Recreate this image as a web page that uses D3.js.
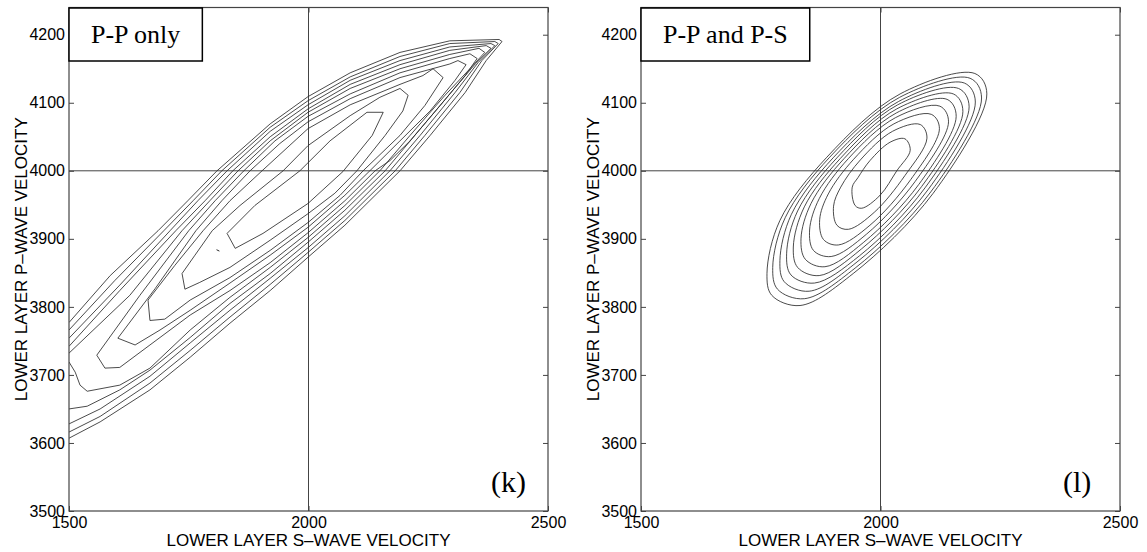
<!DOCTYPE html>
<html lang="en">
<head>
    <meta charset="UTF-8">
    <title>Misfit contours: lower layer velocities</title>
    <script src="https://d3js.org/d3.v7.min.js"></script>
    <style>
        body { margin: 0; background: #fff; }
        text { font-family: "Liberation Sans", Arial, Helvetica, sans-serif; }
        .serif { font-family: "Liberation Serif", "Times New Roman", serif; }
    </style>
</head>
<body>
    <script>
        // axis ranges and ticks
        const sDomain = [1500, 2500];
        const pDomain = [3500, 4240];
        const xTicks = [1500, 2000, 2500];
        const yTicks = [3500, 3600, 3700, 3800, 3900, 4000, 4100, 4200];
        const trueS = 2000;
        const trueP = 4000;
        const xTitle = 'LOWER LAYER S\u2013WAVE VELOCITY';
        const yTitle = 'LOWER LAYER P\u2013WAVE VELOCITY';

        // (k) P-P only: closed contours, innermost first  [S, P]
        const ppOnlyClosed = [
          [[1830,3908],[1888,3949],[1982,4000],[2045,4044],[2122,4086],[2156,4086],[2133,4052],[2072,3999],[1999,3952],[1905,3908],[1847,3886]],
          [[1736,3849],[1763,3876],[1799,3912],[1857,3949],[1947,4000],[1999,4037],[2087,4081],[2149,4108],[2191,4121],[2208,4111],[2197,4088],[2160,4052],[2101,4000],[2055,3967],[1999,3937],[1920,3898],[1836,3858],[1773,3836],[1742,3826]],
          [[1665,3810],[1721,3861],[1780,3912],[1836,3956],[1903,4000],[1999,4062],[2087,4097],[2191,4127],[2239,4140],[2260,4150],[2281,4137],[2243,4096],[2191,4052],[2114,4000],[2066,3964],[1999,3924],[1920,3883],[1836,3843],[1753,3810],[1700,3782],[1669,3780]],
          [[1602,3754],[1680,3827],[1765,3912],[1819,3956],[1878,4000],[1940,4040],[1999,4072],[2087,4106],[2191,4137],[2295,4157],[2312,4162],[2329,4156],[2306,4133],[2254,4088],[2191,4044],[2128,4000],[2076,3964],[1999,3917],[1920,3876],[1836,3835],[1753,3795],[1690,3766],[1638,3744]],
          [[1558,3729],[1648,3817],[1750,3912],[1805,3956],[1865,4000],[1930,4044],[1999,4080],[2087,4113],[2191,4144],[2295,4165],[2337,4172],[2352,4165],[2327,4140],[2275,4096],[2212,4044],[2170,4015],[2139,4000],[2076,3956],[1999,3909],[1920,3865],[1836,3824],[1753,3788],[1669,3744],[1606,3711],[1575,3710]]
        ];

        // (k) P-P only: contours cut by the left edge
        const ppOnlyOpen = [
          [[1500,3719],[1513,3704],[1523,3685],[1538,3676],[1606,3685],[1669,3710],[1753,3766],[1836,3814],[1920,3858],[1999,3902],[2076,3949],[2149,4000],[2212,4052],[2285,4111],[2337,4150],[2368,4174],[2356,4180],[2295,4171],[2191,4150],[2087,4121],[1999,4086],[1920,4044],[1853,4000],[1794,3956],[1736,3912],[1627,3817],[1500,3732]],
          [[1500,3650],[1538,3654],[1606,3678],[1669,3707],[1753,3755],[1836,3805],[1920,3849],[1999,3895],[2076,3942],[2160,4000],[2222,4052],[2295,4113],[2348,4157],[2381,4180],[2371,4184],[2295,4177],[2191,4156],[2087,4127],[1999,4091],[1920,4050],[1842,4000],[1784,3956],[1723,3912],[1606,3824],[1500,3742]],
          [[1500,3628],[1565,3650],[1669,3698],[1753,3747],[1836,3795],[1920,3842],[1999,3887],[2076,3934],[2170,4000],[2233,4052],[2306,4115],[2354,4159],[2389,4184],[2381,4187],[2295,4182],[2191,4162],[2087,4133],[1999,4097],[1920,4058],[1830,4000],[1769,3956],[1711,3912],[1606,3832],[1500,3754]],
          [[1500,3616],[1565,3639],[1669,3688],[1753,3736],[1836,3785],[1920,3833],[1999,3880],[2076,3927],[2181,4000],[2243,4052],[2316,4115],[2362,4162],[2396,4187],[2389,4190],[2295,4187],[2191,4168],[2087,4138],[1999,4103],[1920,4064],[1819,4000],[1759,3956],[1698,3912],[1596,3839],[1500,3766]],
          [[1500,3607],[1565,3631],[1669,3678],[1753,3726],[1836,3776],[1920,3824],[1999,3873],[2076,3920],[2191,4000],[2254,4052],[2327,4115],[2371,4162],[2404,4190],[2398,4193],[2295,4191],[2191,4174],[2087,4144],[1999,4109],[1920,4069],[1809,4000],[1748,3956],[1686,3912],[1586,3846],[1500,3777]]
        ];

        // tiny speck left of the innermost (k) contour
        const ppOnlySpeck = [[1808,3884],[1814,3882]];

        // (l) P-P and P-S: closed contours, innermost first
        const ppPsClosed = [
          [[1941,3976],[1947,3949],[1961,3945],[1999,3964],[2034,4000],[2062,4030],[2051,4047],[2020,4042],[1978,4015],[1953,3990]],
          [[1902,3948],[1909,3920],[1933,3914],[1987,3939],[2051,3993],[2097,4048],[2083,4068],[2025,4058],[1958,4016],[1917,3976]],
          [[1873,3928],[1881,3899],[1912,3891],[1978,3920],[2063,3987],[2123,4062],[2106,4083],[2028,4069],[1944,4017],[1891,3966]],
          [[1852,3913],[1860,3883],[1897,3874],[1971,3907],[2072,3984],[2142,4072],[2124,4095],[2031,4078],[1933,4018],[1872,3959]],
          [[1834,3900],[1843,3870],[1884,3859],[1965,3895],[2080,3980],[2158,4080],[2139,4105],[2033,4085],[1924,4018],[1855,3952]],
          [[1818,3888],[1827,3858],[1872,3846],[1960,3885],[2086,3977],[2172,4087],[2152,4113],[2034,4091],[1916,4018],[1841,3947]],
          [[1804,3878],[1813,3847],[1862,3835],[1956,3875],[2093,3975],[2185,4094],[2163,4121],[2036,4097],[1909,4019],[1827,3941]],
          [[1790,3868],[1799,3837],[1851,3823],[1951,3866],[2099,3972],[2198,4101],[2175,4129],[2038,4102],[1901,4019],[1814,3936]],
          [[1775,3858],[1785,3826],[1841,3812],[1947,3857],[2105,3969],[2211,4107],[2187,4136],[2040,4108],[1894,4020],[1801,3931]],
          [[1763,3849],[1773,3817],[1832,3802],[1943,3849],[2110,3967],[2222,4113],[2197,4143],[2041,4113],[1888,4020],[1790,3927]]
        ];

        const panels = [
          { left: 69, label: 'P-P only', tag: '(k)', closed: ppOnlyClosed, open: ppOnlyOpen, speck: ppOnlySpeck, curve: d3.curveLinearClosed },
          { left: 641, label: 'P-P and P-S', tag: '(l)', closed: ppPsClosed, open: [], speck: null, curve: d3.curveCatmullRomClosed.alpha(0.5) }
        ];

        const width = 1147;
        const height = 552;
        const plotW = 479;
        const plotTop = 7.5;
        const plotBottom = 511;
        const axisColor = '#444';
        const lineColor = '#2a2a2a';

        const svg = d3.select('body')
          .append('svg')
          .attr('width', width)
          .attr('height', height);

        function drawPanel(panel, i) {
          const x = d3.scaleLinear().domain(sDomain).range([panel.left, panel.left + plotW]);
          const y = d3.scaleLinear().domain(pDomain).range([plotBottom, plotTop]);

          const g = svg.append('g');
          const clipId = 'clip' + i;
          g.append('clipPath').attr('id', clipId)
            .append('rect')
            .attr('x', x(sDomain[0])).attr('y', y(pDomain[1]))
            .attr('width', plotW).attr('height', plotBottom - plotTop);

          const plot = g.append('g').attr('clip-path', `url(#${clipId})`);

          // true-model crosshair
          plot.append('line')
            .attr('x1', x(trueS)).attr('x2', x(trueS))
            .attr('y1', y(pDomain[0])).attr('y2', y(pDomain[1]))
            .attr('stroke', axisColor).attr('stroke-width', 1);
          plot.append('line')
            .attr('x1', x(sDomain[0])).attr('x2', x(sDomain[1]))
            .attr('y1', y(trueP)).attr('y2', y(trueP))
            .attr('stroke', axisColor).attr('stroke-width', 1);

          const line = d3.line().x(d => x(d[0])).y(d => y(d[1]));
          const loop = d3.line().x(d => x(d[0])).y(d => y(d[1])).curve(panel.curve);

          plot.selectAll('path.closed')
            .data(panel.closed)
            .join('path')
            .attr('class', 'closed')
            .attr('d', loop)
            .attr('fill', 'none')
            .attr('stroke', lineColor)
            .attr('stroke-width', 0.85);

          plot.selectAll('path.open')
            .data(panel.open)
            .join('path')
            .attr('class', 'open')
            .attr('d', line)
            .attr('fill', 'none')
            .attr('stroke', lineColor)
            .attr('stroke-width', 0.85);

          if (panel.speck) {
            plot.append('path')
              .attr('d', line(panel.speck))
              .attr('fill', 'none')
              .attr('stroke', lineColor)
              .attr('stroke-width', 1);
          }

          // axes, ticks pointing inward
          const yAxisL = d3.axisLeft(y).tickValues(yTicks).tickSize(-5).tickPadding(4).tickFormat(d3.format('d'));
          const yAxisR = d3.axisRight(y).tickValues(yTicks).tickSize(-5).tickFormat('');
          const xAxisB = d3.axisBottom(x).tickValues(xTicks).tickSize(-5).tickPadding(6).tickFormat(d3.format('d'));
          const xAxisT = d3.axisTop(x).tickValues(xTicks).tickSize(-5).tickFormat('');

          const axes = [
            [yAxisL, `translate(${x(sDomain[0])},0)`],
            [yAxisR, `translate(${x(sDomain[1])},0)`],
            [xAxisB, `translate(0,${plotBottom})`],
            [xAxisT, `translate(0,${plotTop})`]
          ];
          axes.forEach(([ax, tr]) => {
            const a = g.append('g').attr('transform', tr).call(ax);
            a.select('.domain').remove();
            a.selectAll('line').attr('stroke', axisColor);
            a.selectAll('text')
              .attr('fill', '#000')
              .style('font-family', '"Liberation Sans", Arial, sans-serif')
              .style('font-size', '16px');
          });

          // frame
          g.append('rect')
            .attr('x', x(sDomain[0])).attr('y', y(pDomain[1]))
            .attr('width', plotW).attr('height', plotBottom - plotTop)
            .attr('fill', 'none')
            .attr('stroke', axisColor)
            .attr('stroke-width', 1.2);

          // axis titles
          g.append('text')
            .attr('x', x((sDomain[0] + sDomain[1]) / 2))
            .attr('y', 546)
            .attr('text-anchor', 'middle')
            .style('font-size', '17px')
            .text(xTitle);

          g.append('text')
            .attr('transform', `translate(${panel.left - 42},${(plotTop + plotBottom) / 2}) rotate(-90)`)
            .attr('text-anchor', 'middle')
            .style('font-size', '17px')
            .text(yTitle);

          // legend box in the top-left corner
          const boxX = x(sDomain[0]);
          const label = g.append('text')
            .attr('class', 'serif')
            .attr('x', boxX + 22)
            .attr('y', 43)
            .style('font-size', '26px')
            .text(panel.label);
          const tw = label.node().getComputedTextLength();
          g.insert('rect', 'text.serif')
            .attr('x', boxX)
            .attr('y', 8)
            .attr('width', tw + 44)
            .attr('height', 53)
            .attr('fill', '#fff')
            .attr('stroke', '#000')
            .attr('stroke-width', 1.5);

          // panel tag
          g.append('text')
            .attr('class', 'serif')
            .attr('x', boxX + 422)
            .attr('y', 492)
            .style('font-size', '30px')
            .text(panel.tag);
        }

        panels.forEach(drawPanel);
    </script>
</body>
</html>
